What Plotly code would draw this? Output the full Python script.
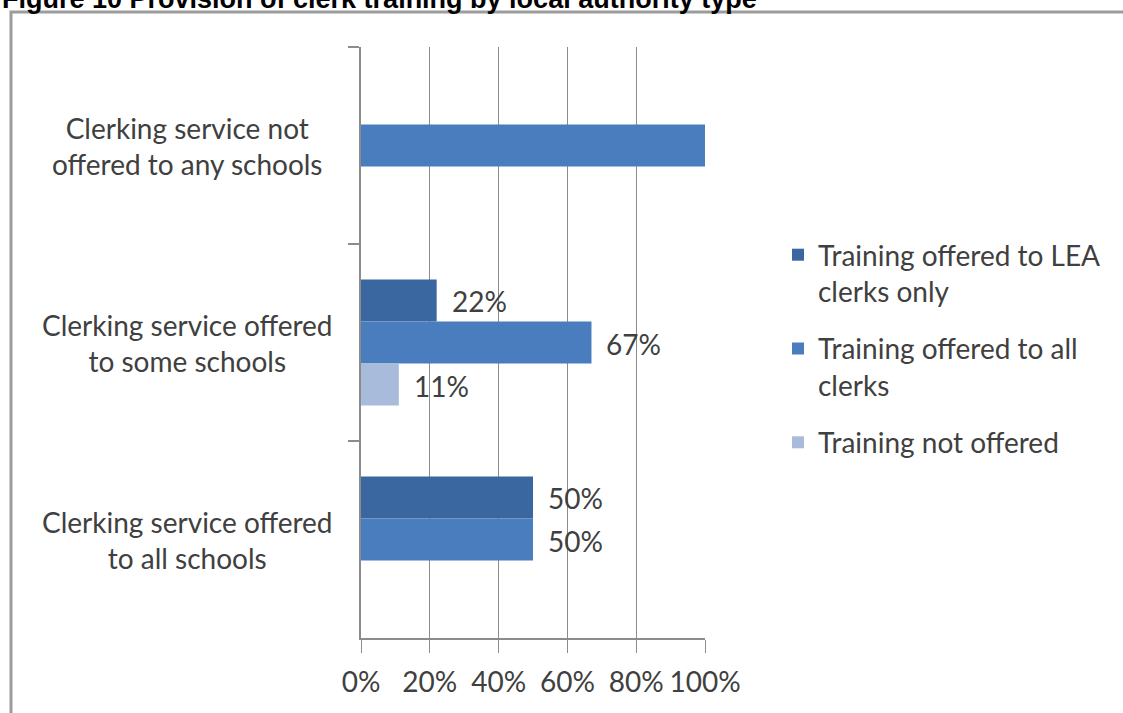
import plotly.graph_objects as go

# Categories, top to bottom
categories = [
    "Clerking service not offered to any schools",
    "Clerking service offered to some schools",
    "Clerking service offered to all schools",
]
category_labels = [
    "Clerking service not<br>offered to any schools",
    "Clerking service offered<br>to some schools",
    "Clerking service offered<br>to all schools",
]

# Series (percent of local authorities)
series_names = [
    "Training offered to LEA<br>clerks only",
    "Training offered to all<br>clerks",
    "Training not offered",
]
lea_only = [0, 22, 50]
all_clerks = [100, 67, 50]
not_offered = [0, 11, 0]

x_ticks = [0, 20, 40, 60, 80, 100]
x_tick_labels = ["0%", "20%", "40%", "60%", "80%", "100%"]

title_text = "Figure 10 Provision of clerk training by local authority type"

colors = ["#3b67a1", "#4a7dbd", "#a8bbda"]
text_color = "#404040"
grid_color = "#8c8c8c"
FONT = "Lato"
FS = 28

W, H = 1123, 713
M = dict(l=361, r=418, t=47, b=75)
BARGAP = 0.36

fig = go.Figure()
all_series = [lea_only, all_clerks, not_offered]
for name, vals, col in zip(series_names, all_series, colors):
    fig.add_trace(go.Bar(
        name=name, y=categories, x=vals, orientation="h",
        marker=dict(color=col, line=dict(width=0)),
        legendgroup=name,
    ))

# value labels just past the end of each bar
plot_h = H - M["t"] - M["b"]
pw = W - M["l"] - M["r"]
bar_px = plot_h / len(categories) * (1 - BARGAP) / len(all_series)
annotations = []
for i, vals in enumerate(all_series):
    shift = (1 - i) * bar_px
    for cat, v in zip(categories, vals):
        if 0 < v < 100:
            annotations.append(dict(
                x=v, y=cat, xref="x", yref="y", text=f"{v}%",
                showarrow=False, xanchor="left", yanchor="middle",
                xshift=13, yshift=shift - 1,
                font=dict(family=FONT, size=FS, color=text_color),
            ))

# category labels, centred lines to the left of the axis
for cat, lab in zip(categories, category_labels):
    annotations.append(dict(
        x=(187 - M["l"]) / pw, y=cat,
        xref="paper", yref="y", text=lab, showarrow=False,
        xanchor="center", yanchor="middle", align="center",
        font=dict(family=FONT, size=FS, color=text_color),
    ))

# figure caption along the top edge
annotations.append(dict(
    x=(0 - M["l"]) / pw, y=(H - M["b"] - 16) / plot_h,
    xref="paper", yref="paper", text=f"<b>{title_text}</b>",
    showarrow=False, xanchor="left", yanchor="bottom",
    font=dict(family="Liberation Sans, Arial", size=27, color="#000000"),
))

shapes = [dict(
    type="rect", xref="paper", yref="paper",
    x0=(11 - M["l"]) / pw, x1=3,
    y0=-1, y1=(H - M["b"] - 12) / plot_h,
    line=dict(color="#9c9c9c", width=3), fillcolor="rgba(0,0,0,0)",
    layer="below",
)]

fig.update_layout(
    width=W, height=H, margin=M,
    paper_bgcolor="white", plot_bgcolor="white",
    barmode="group", bargap=BARGAP, bargroupgap=0,
    font=dict(family=FONT, size=FS, color=text_color),
    showlegend=True,
    legend=dict(
        x=(778 - M["l"]) / pw, xanchor="left",
        y=(H - M["b"] - 230) / plot_h, yanchor="top",
        valign="top", tracegroupgap=18,
        font=dict(family=FONT, size=FS, color=text_color),
        bgcolor="rgba(0,0,0,0)",
    ),
    annotations=annotations,
    shapes=shapes,
)

fig.update_xaxes(
    range=[0, 100], tickvals=x_ticks, ticktext=x_tick_labels,
    showgrid=True, gridcolor=grid_color, gridwidth=1,
    showline=True, linecolor=grid_color, linewidth=1.5,
    ticks="outside", ticklen=13, tickcolor=grid_color, tickwidth=1,
    ticklabelstandoff=6,
    tickfont=dict(family=FONT, size=FS, color=text_color),
    zeroline=False, fixedrange=True,
)
fig.update_yaxes(
    autorange="reversed", type="category",
    showticklabels=False, showgrid=False,
    showline=True, linecolor=grid_color, linewidth=1.5,
    ticks="outside", ticklen=11, tickcolor=grid_color, tickwidth=1.5,
    tickson="boundaries", zeroline=False, fixedrange=True,
)

fig.write_html("out.html")
